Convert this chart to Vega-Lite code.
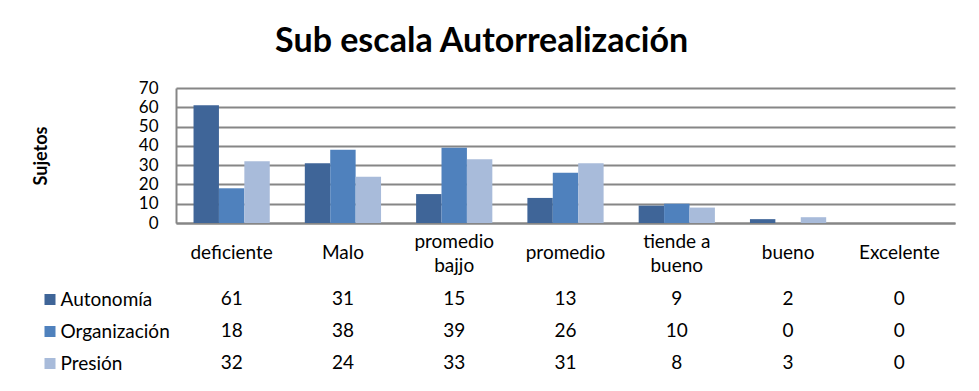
{
  "$schema": "https://vega.github.io/schema/vega-lite/v6.json",
  "background": "white",
  "padding": {"left": 32, "top": 25, "right": 20, "bottom": 10},
  "title": {"text": "Sub escala Autorrealización", "font": "Lato", "fontSize": 34, "fontWeight": "bold", "color": "black", "anchor": "middle", "offset": 20, "dx": -12},
  "datasets": {
    "d": [
      {"cat": "deficiente", "series": "Autonomía", "value": 61},
      {"cat": "Malo", "series": "Autonomía", "value": 31},
      {"cat": "promedio bajjo", "series": "Autonomía", "value": 15},
      {"cat": "promedio", "series": "Autonomía", "value": 13},
      {"cat": "tiende a bueno", "series": "Autonomía", "value": 9},
      {"cat": "bueno", "series": "Autonomía", "value": 2},
      {"cat": "Excelente", "series": "Autonomía", "value": 0},
      {"cat": "deficiente", "series": "Organización", "value": 18},
      {"cat": "Malo", "series": "Organización", "value": 38},
      {"cat": "promedio bajjo", "series": "Organización", "value": 39},
      {"cat": "promedio", "series": "Organización", "value": 26},
      {"cat": "tiende a bueno", "series": "Organización", "value": 10},
      {"cat": "bueno", "series": "Organización", "value": 0},
      {"cat": "Excelente", "series": "Organización", "value": 0},
      {"cat": "deficiente", "series": "Presión", "value": 32},
      {"cat": "Malo", "series": "Presión", "value": 24},
      {"cat": "promedio bajjo", "series": "Presión", "value": 33},
      {"cat": "promedio", "series": "Presión", "value": 31},
      {"cat": "tiende a bueno", "series": "Presión", "value": 8},
      {"cat": "bueno", "series": "Presión", "value": 3},
      {"cat": "Excelente", "series": "Presión", "value": 0}
    ]
  },
  "spacing": 8,
  "vconcat": [
    {
      "width": 779,
      "height": 135,
      "data": {"name": "d"},
      "mark": {"type": "bar"},
      "encoding": {
        "x": {
          "field": "cat", "type": "nominal",
          "sort": ["deficiente", "Malo", "promedio bajjo", "promedio", "tiende a bueno", "bueno", "Excelente"],
          "scale": {"paddingInner": 0.315, "paddingOuter": 0.1575},
          "axis": {
            "title": null, "ticks": false, "tickSize": 0, "labelAngle": 0,
            "labelExpr": "datum.value == 'promedio bajjo' ? ['promedio', 'bajjo'] : datum.value == 'tiende a bueno' ? ['tiende a', 'bueno'] : datum.label",
            "labelBaseline": "middle",
            "labelPadding": {"condition": {"test": "datum.value == 'promedio bajjo' || datum.value == 'tiende a bueno'", "value": 18}, "value": 29},
            "labelLineHeight": 24,
            "labelFont": "Lato", "labelFontSize": 19, "labelColor": "black",
            "domainColor": "#868686", "domainWidth": 2
          }
        },
        "xOffset": {"field": "series", "type": "nominal", "sort": ["Autonomía", "Organización", "Presión"]},
        "y": {
          "field": "value", "type": "quantitative",
          "scale": {"domain": [0, 70], "nice": false},
          "axis": {
            "title": "Sujetos", "titleFont": "Lato", "titleFontSize": 18, "titleFontWeight": "bold", "titleColor": "black", "titlePadding": 88,
            "values": [0, 10, 20, 30, 40, 50, 60, 70],
            "ticks": false, "tickSize": 0, "labelPadding": 18,
            "labelFont": "Lato", "labelFontSize": 17, "labelColor": "black",
            "domainColor": "#868686", "domainWidth": 2,
            "grid": true, "gridColor": "#868686", "gridWidth": 2
          }
        },
        "color": {
          "field": "series", "type": "nominal",
          "sort": ["Autonomía", "Organización", "Presión"],
          "scale": {"domain": ["Autonomía", "Organización", "Presión"], "range": ["#3F6598", "#4F81BD", "#A8BBDA"]},
          "legend": null
        }
      }
    },
    {
      "width": 779,
      "height": 96,
      "data": {"name": "d"},
      "mark": {"type": "text", "font": "Lato", "fontSize": 19, "color": "black"},
      "encoding": {
        "x": {
          "field": "cat", "type": "nominal",
          "sort": ["deficiente", "Malo", "promedio bajjo", "promedio", "tiende a bueno", "bueno", "Excelente"],
          "axis": null
        },
        "y": {
          "field": "series", "type": "nominal",
          "sort": ["Autonomía", "Organización", "Presión"],
          "axis": {
            "title": null, "domain": false,
            "ticks": true, "tickSize": 133, "tickWidth": 11, "tickDash": [0, 121, 11, 2000],
            "tickColor": {
              "condition": [
                {"test": "datum.value === 'Autonomía'", "value": "#3F6598"},
                {"test": "datum.value === 'Organización'", "value": "#4F81BD"}
              ],
              "value": "#A8BBDA"
            },
            "labelAlign": "left", "labelPadding": -17,
            "labelFont": "Lato", "labelFontSize": 19, "labelColor": "black"
          }
        },
        "text": {"field": "value", "type": "quantitative"}
      }
    }
  ],
  "config": {
    "view": {"stroke": null}
  }
}
